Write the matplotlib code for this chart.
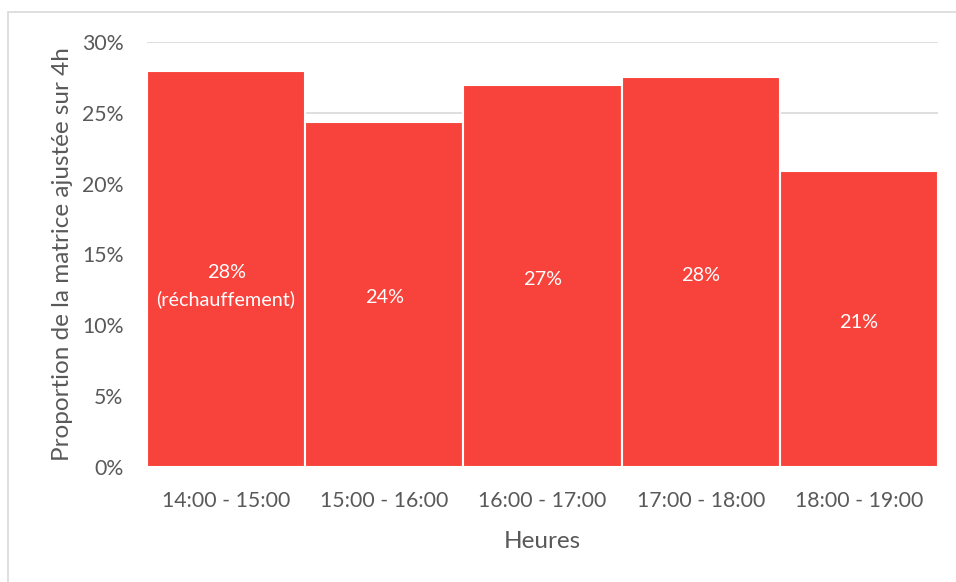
import matplotlib.pyplot as plt
from matplotlib.patches import Rectangle
from matplotlib.ticker import PercentFormatter

plt.rcParams['font.family'] = ['Lato', 'DejaVu Sans']

heures = ["14:00 - 15:00", "15:00 - 16:00", "16:00 - 17:00", "17:00 - 18:00", "18:00 - 19:00"]
proportions = [27.95, 24.35, 26.96, 27.53, 20.89]
etiquettes = ["28%", "24%", "27%", "28%", "21%"]
notes = ["(réchauffement)", "", "", "", ""]

gris = "#595959"
rouge = "#F8433C"

fig = plt.figure(figsize=(9.56, 5.82), dpi=100)
ax = fig.add_axes([147 / 956, 1 - 467 / 582, (938 - 147) / 956, (467 - 42) / 582])

# cadre du graphique
fig.patches.append(Rectangle((8 / 956, -0.1), 1.2, 1 - 12 / 582 + 0.1, transform=fig.transFigure,
                             fill=False, edgecolor="#d9d9d9", linewidth=1.2))

x = range(len(heures))
ax.bar(x, proportions, width=1.0, color=rouge, edgecolor="white", linewidth=1.5, zorder=2)
for i, (v, lab, note) in enumerate(zip(proportions, etiquettes, notes)):
    ax.annotate(lab, (i, v / 2), xytext=(0, -2.2), textcoords="offset points",
                ha="center", va="center", color="white", fontsize=14.3, zorder=3)
    if note:
        ax.annotate(note, (i, v / 2), xytext=(0, -21.5), textcoords="offset points",
                    ha="center", va="center", color="white", fontsize=14.3, zorder=3)

ax.set_xlim(-0.5, len(heures) - 0.5)
ax.set_ylim(0, 30)
ax.set_yticks(range(0, 31, 5))
ax.yaxis.set_major_formatter(PercentFormatter(decimals=0))
ax.set_xticks(list(x))
ax.set_xticklabels(heures)
ax.grid(axis="y", color="#d9d9d9", linewidth=1.2, zorder=0)
ax.set_axisbelow(True)
for s in ax.spines.values():
    s.set_visible(False)
ax.tick_params(length=0, labelsize=15.3, labelcolor=gris)
ax.tick_params(axis="x", pad=17)
ax.tick_params(axis="y", pad=17)
ax.set_xlabel("Heures", fontsize=17.5, color=gris, labelpad=15)
ax.set_ylabel("Proportion de la matrice ajustée sur 4h", fontsize=17.5, color=gris, labelpad=6)

plt.savefig("out.png", dpi=100)
